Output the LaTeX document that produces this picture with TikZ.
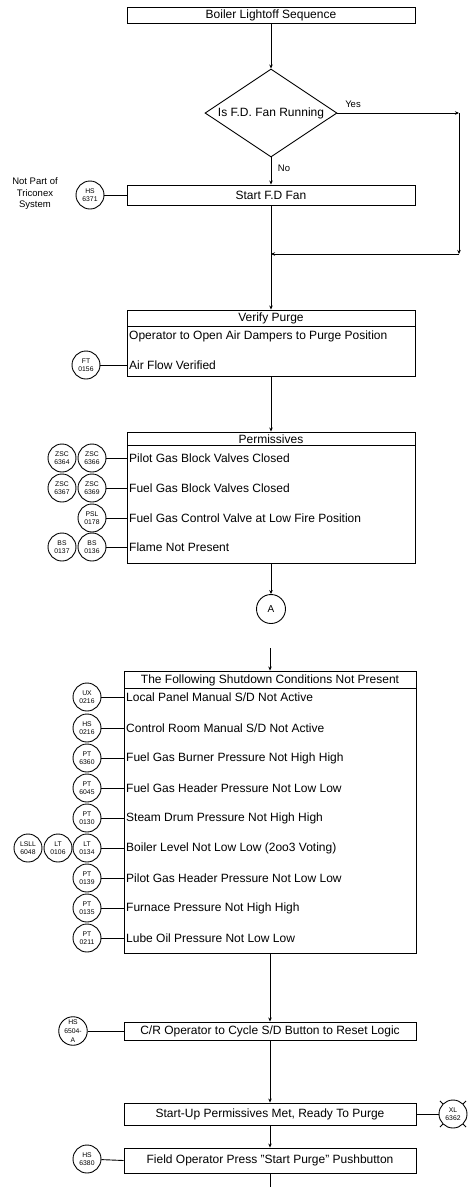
\documentclass[tikz,border=0pt]{standalone}
\usepackage{fontspec}
\setmainfont{Liberation Sans}
\usetikzlibrary{shapes.geometric,arrows.meta}
\begin{document}
\begin{tikzpicture}[x=1pt,y=-1pt,
  txt/.style={font=\fontsize{12}{14}\selectfont},
  box/.style={draw, line width=0.9pt, inner sep=0pt, txt},
  row/.style={anchor=west, inner sep=2pt, txt},
  tag/.style={draw, circle, line width=0.9pt, minimum size=28pt, inner sep=0pt,
    align=center, font=\fontsize{6.8}{7.8}\selectfont},
  flow/.style={line width=0.9pt, -{Stealth[length=4pt,width=3.5pt]}},
  wire/.style={line width=0.9pt},
  note/.style={font=\fontsize{9.5}{11.5}\selectfont, align=center}]
\useasboundingbox (0,0) rectangle (467,1187);

% ---- start and F.D. fan check
\node[box, minimum width=288pt, minimum height=16pt] (top) at (271,15) {Boiler Lightoff Sequence};
\node[draw, diamond, line width=0.9pt, minimum width=132pt, minimum height=88pt,
  inner sep=0pt, txt] (dec) at (271,113) {\makebox[0pt]{Is F.D. Fan Running}};
\draw[flow] (top.south) -- (dec.north);

\coordinate (yc) at (459,113);
\coordinate (yd) at (459,254);
\coordinate (mg) at (271,254);
\draw[flow] (dec.east) -- (yc);
\draw[flow] (yc) -- (yd);
\draw[flow] (yd) -- (mg);
\node[note] (yes) at (353,104) {Yes};

\node[box, minimum width=288pt, minimum height=20pt] (sfd) at (271,195) {Start F.D Fan};
\draw[flow] (dec.south) -- (sfd.north);
\node[note] (no) at (284,168) {No};
\node[tag] (hs6371) at (90,195) {HS\\6371};
\draw[wire] (hs6371) -- (sfd.west);
\node[note] (np) at (35,194) {Not Part of\\Triconex\\System};

% ---- verify purge
\node[box, minimum width=288pt, minimum height=66pt] (vp) at (271,343) {};
\draw[wire] (127,326) -- (415,326);
\node[txt] (vph) at (271,318) {Verify Purge};
\node[row] (vp1) at (127,336) {Operator to Open Air Dampers to Purge Position};
\node[row] (vp2) at (127,365) {Air Flow Verified};
\node[tag] (ft0156) at (86,365) {FT\\0156};
\draw[wire] (ft0156) -- (vp2.west);
\draw[flow] (sfd.south) -- (vp.north);

% ---- permissives
\node[box, minimum width=288pt, minimum height=131pt] (pm) at (271,497.5) {};
\draw[wire] (127,445) -- (415,445);
\node[txt] (pmh) at (271,439) {Permissives};
\node[row] (pm1) at (127,458) {Pilot Gas Block Valves Closed};
\node[row] (pm2) at (127,488) {Fuel Gas Block Valves Closed};
\node[row] (pm3) at (127,518) {Fuel Gas Control Valve at Low Fire Position};
\node[row] (pm4) at (127,547) {Flame Not Present};
\draw[flow] (vp.south) -- (pm.north);

\node[tag] (zsc6364) at (62,458) {ZSC\\6364};
\node[tag] (zsc6366) at (92,458) {ZSC\\6366};
\node[tag] (zsc6367) at (62,488) {ZSC\\6367};
\node[tag] (zsc6369) at (92,488) {ZSC\\6369};
\node[tag] (psl0178) at (92,518) {PSL\\0178};
\node[tag] (bs0137) at (62,547) {BS\\0137};
\node[tag] (bs0136) at (92,547) {BS\\0136};
\draw[wire] (zsc6366) -- (pm1.west);
\draw[wire] (zsc6369) -- (pm2.west);
\draw[wire] (psl0178) -- (pm3.west);
\draw[wire] (bs0136) -- (pm4.west);

% ---- off-page connector
\node[tag, minimum size=29pt, font=\fontsize{10}{12}\selectfont] (A) at (271,609) {A};
\draw[flow] (pm.south) -- (A.north);

% ---- shutdown conditions
\node[box, minimum width=292pt, minimum height=282pt] (sd) at (270,812) {};
\draw[wire] (124,688) -- (416,688);
\node[txt] (sdh) at (270,680) {The Following Shutdown Conditions Not Present};
\coordinate (stub) at (270,648);
\draw[flow] (stub) -- (sd.north);

\node[row] (sd1) at (124,697) {Local Panel Manual S/D Not Active};
\node[row] (sd2) at (124,728) {Control Room Manual S/D Not Active};
\node[row] (sd3) at (124,758) {Fuel Gas Burner Pressure Not High High};
\node[row] (sd4) at (124,788) {Fuel Gas Header Pressure Not Low Low};
\node[row] (sd5) at (124,818) {Steam Drum Pressure Not High High};
\node[row] (sd6) at (124,848) {Boiler Level Not Low Low (2oo3 Voting)};
\node[row] (sd7) at (124,878) {Pilot Gas Header Pressure Not Low Low};
\node[row] (sd8) at (124,908) {Furnace Pressure Not High High};
\node[row] (sd9) at (124,938) {Lube Oil Pressure Not Low Low};

\node[tag] (ux0216) at (87,697) {UX\\0216};
\node[tag] (hs0216) at (87,728) {HS\\0216};
\node[tag] (pt6360) at (87,758) {PT\\6360};
\node[tag] (pt6045) at (87,788) {PT\\6045};
\node[tag] (pt0130) at (87,818) {PT\\0130};
\node[tag] (lsll6048) at (28,848) {LSLL\\6048};
\node[tag] (lt0106) at (58,848) {LT\\0106};
\node[tag] (lt0134) at (87,848) {LT\\0134};
\node[tag] (pt0139) at (87,878) {PT\\0139};
\node[tag] (pt0135) at (87,908) {PT\\0135};
\node[tag] (pt0211) at (87,938) {PT\\0211};
\draw[wire] (ux0216) -- (sd1.west);
\draw[wire] (hs0216) -- (sd2.west);
\draw[wire] (pt6360) -- (sd3.west);
\draw[wire] (pt6045) -- (sd4.west);
\draw[wire] (pt0130) -- (sd5.west);
\draw[wire] (lt0134) -- (sd6.west);
\draw[wire] (pt0139) -- (sd7.west);
\draw[wire] (pt0135) -- (sd8.west);
\draw[wire] (pt0211) -- (sd9.west);

% ---- reset and purge start
\node[box, minimum width=292pt, minimum height=18pt] (cr) at (270,1031) {C/R Operator to Cycle S/D Button to Reset Logic};
\draw[flow] (sd.south) -- (cr.north);
\node[tag, font=\fontsize{6.8}{9}\selectfont] (hs6504) at (73,1031) {HS\\6504-\\A};
\draw[wire] (hs6504) -- (cr.west);

\node[box, minimum width=292pt, minimum height=22pt] (su) at (270,1114) {Start-Up Permissives Met, Ready To Purge};
\draw[flow] (cr.south) -- (su.north);
\node[tag] (xl6362) at (453,1114) {XL\\6362};
\draw[wire] (su.east) -- (xl6362);
\foreach \a in {45,135,225,315}
  \draw[wire] (xl6362.\a) -- ++(\a:4pt);

\node[box, minimum width=292pt, minimum height=25pt] (fo) at (270,1160.5) {Field Operator Press "Start Purge" Pushbutton};
\draw[flow] (su.south) -- (fo.north);
\node[tag] (hs6380) at (87,1159) {HS\\6380};
\draw[wire] (hs6380) -- (fo.west);
\coordinate (end) at (270,1187);
\draw[wire] (fo.south) -- (end);
\end{tikzpicture}
\end{document}
